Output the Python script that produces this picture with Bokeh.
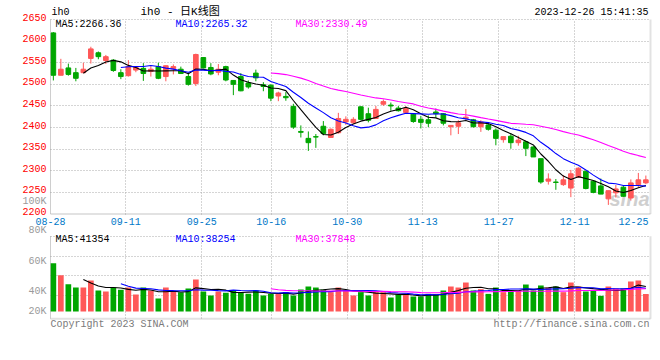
import numpy as np
import pandas as pd
from bokeh.plotting import figure
from bokeh.models import (Range1d, FixedTicker, Grid, Label, LabelSet, BoxAnnotation,
                          ColumnDataSource)
from bokeh.core.properties import value
from bokeh.embed import file_html
from bokeh.resources import INLINE

# ---------------- data ----------------
dates = ["08-28", "08-29", "08-30", "08-31", "09-01", "09-04", "09-05", "09-06", "09-07", "09-08",
         "09-11", "09-12", "09-13", "09-14", "09-15", "09-18", "09-19", "09-20", "09-21", "09-22",
         "09-25", "09-26", "09-27", "09-28", "10-09", "10-10", "10-11", "10-12", "10-13", "10-16",
         "10-17", "10-18", "10-19", "10-20", "10-23", "10-24", "10-25", "10-26", "10-27", "10-30",
         "10-31", "11-01", "11-02", "11-03", "11-06", "11-07", "11-08", "11-09", "11-10", "11-13",
         "11-14", "11-15", "11-16", "11-17", "11-20", "11-21", "11-22", "11-23", "11-24", "11-27",
         "11-28", "11-29", "11-30", "12-01", "12-04", "12-05", "12-06", "12-07", "12-08", "12-11",
         "12-12", "12-13", "12-14", "12-15", "12-18", "12-19", "12-20", "12-21", "12-22", "12-25"]

opens = [2619, 2521, 2538, 2527, 2527, 2560, 2573, 2555, 2556, 2527,
         2520, 2533, 2537, 2530, 2541, 2518, 2536, 2535, 2518, 2502,
         2562, 2539, 2528, 2541, 2509, 2518, 2503, 2526, 2499, 2498,
         2473, 2472, 2449, 2391, 2375, 2379, 2403, 2377, 2388, 2413,
         2411, 2448, 2432, 2421, 2454, 2452, 2445, 2435, 2431, 2419,
         2418, 2436, 2432, 2402, 2403, 2421, 2418, 2402, 2406, 2394,
         2372, 2380, 2365, 2367, 2355, 2328, 2276, 2274, 2268, 2260,
         2285, 2299, 2276, 2265, 2235, 2249, 2262, 2237, 2268, 2272]
highs = [2621, 2559, 2548, 2538, 2550, 2587, 2576, 2568, 2558, 2535,
         2556, 2541, 2549, 2542, 2550, 2544, 2546, 2541, 2527, 2571,
         2563, 2549, 2547, 2543, 2510, 2526, 2509, 2534, 2505, 2500,
         2483, 2482, 2455, 2405, 2391, 2385, 2415, 2398, 2434, 2426,
         2424, 2449, 2446, 2450, 2465, 2458, 2450, 2450, 2432, 2427,
         2428, 2444, 2433, 2405, 2417, 2443, 2420, 2417, 2409, 2398,
         2379, 2386, 2381, 2370, 2357, 2328, 2294, 2281, 2290, 2302,
         2308, 2299, 2277, 2282, 2254, 2267, 2265, 2280, 2295, 2289]
lows = [2509, 2521, 2520, 2507, 2526, 2548, 2558, 2547, 2529, 2512,
        2518, 2528, 2508, 2518, 2512, 2507, 2523, 2524, 2497, 2496,
        2537, 2521, 2521, 2507, 2475, 2484, 2490, 2507, 2484, 2461,
        2461, 2462, 2397, 2377, 2346, 2353, 2382, 2376, 2386, 2406,
        2409, 2417, 2412, 2421, 2450, 2439, 2437, 2433, 2411, 2398,
        2401, 2423, 2405, 2382, 2385, 2416, 2400, 2390, 2393, 2359,
        2365, 2351, 2358, 2334, 2332, 2270, 2268, 2256, 2265, 2239,
        2284, 2257, 2248, 2246, 2221, 2238, 2240, 2231, 2262, 2269]
closes = [2521, 2535, 2523, 2514, 2535, 2582, 2564, 2564, 2532, 2518,
          2541, 2539, 2525, 2535, 2514, 2543, 2541, 2525, 2500, 2569,
          2538, 2524, 2535, 2510, 2500, 2485, 2494, 2515, 2495, 2468,
          2480, 2469, 2401, 2389, 2365, 2378, 2386, 2396, 2421, 2419,
          2419, 2419, 2417, 2442, 2460, 2450, 2439, 2444, 2414, 2412,
          2410, 2432, 2410, 2405, 2411, 2424, 2402, 2413, 2396, 2375,
          2379, 2365, 2371, 2352, 2332, 2274, 2281, 2273, 2279, 2293,
          2306, 2259, 2250, 2246, 2254, 2258, 2241, 2272, 2279, 2279]
volumes = [80200, 60300, 45400, 39800, 39800, 51500, 34900, 33200, 39800, 36000,
           39800, 28200, 39800, 34900, 21600, 39800, 33200, 32100, 38200, 53100,
           33200, 26600, 33200, 31000, 34900, 32100, 29300, 34900, 26600, 29300,
           29300, 32100, 26600, 36500, 41500, 39800, 36500, 32100, 39800, 34900,
           26600, 32100, 26600, 32100, 32100, 23200, 28200, 28200, 24900, 24900,
           29300, 28200, 34900, 41500, 39800, 48100, 34900, 37100, 29300, 39800,
           32100, 34900, 34900, 44800, 34900, 43200, 39800, 41500, 32100, 48100,
           41500, 33200, 34900, 26000, 41500, 38200, 38200, 49800, 51500, 29100]

price_ticks = [2200, 2250, 2300, 2350, 2400, 2450, 2500, 2550, 2600, 2650]
price_tick_labels = ["2200", "2250", "2300", "2350", "2400", "2450", "2500", "2550", "2600", "2650"]
date_tick_labels = ["08-28", "09-11", "09-25", "10-16", "10-30", "11-13", "11-27", "12-11", "12-25"]
date_tick_pos = [-0.37, 9.66, 19.79, 29.05, 39.18, 49.26, 59.39, 69.53, 77.35]
date_grid_pos = [9.66, 19.79, 29.05, 39.18, 49.26, 59.39, 69.53]
vol_tick_labels = ["100K", "80K", "60K", "40K", "20K"]
vol_tick_at = [182600, 134500, 83500, 33700, 500]      # where the source prints them
vol_grid = [26560, 59260, 91800, 125000]

code_text = "ih0"
title_text = "ih0 - 日K线图"
stamp_text = "2023-12-26 15:41:35"
price_ma_texts = ["MA5:2266.36", "MA10:2265.32", "MA30:2330.49"]
vol_ma_texts = ["MA5:41354", "MA10:38254", "MA30:37848"]
copyright_text = "Copyright 2023 SINA.COM"
url_text = "http://finance.sina.com.cn"

# ---------------- styles / geometry ----------------
RED = "#FF5858"
GREEN = "#00A600"
MA_COLORS = ["#000000", "#0000FF", "#FF00FF"]
GRID = "#ABABAB"
BORDER = "#A0A0A0"
PRICE_TXT = "#FF0000"
DATE_TXT = "#0078C8"
VOL_TXT = "#9A9A9A"
FOOT_TXT = "#7A7A7A"
MONO = "Liberation Mono"
FS = "10px"

W, H = 660, 360
PLOT_L, PLOT_R = 50, 650
MAIN_T, MAIN_B = 19, 213.5
VOL_T, VOL_B = 235.7, 318.3
VOL_BASE, VOL_PER_PX = 311, 1660

X0, X1 = -0.38, 79.62
P0, P1 = 2200, 2650

ppu = (PLOT_R - PLOT_L) / (X1 - X0)
XL, XR = X0 - PLOT_L / ppu, X1 + (W - PLOT_R) / ppu
pp = (P1 - P0) / (MAIN_B - MAIN_T)
PL, PH = P0 - (H - MAIN_B) * pp, P1 + MAIN_T * pp
VL, VH = -(H - VOL_BASE) * VOL_PER_PX, VOL_BASE * VOL_PER_PX
VT, VB = (VOL_BASE - VOL_T) * VOL_PER_PX, (VOL_BASE - VOL_B) * VOL_PER_PX

# ---------------- derived ----------------
n = len(closes)
x = np.arange(n)
o = np.array(opens, float)
h = np.array(highs, float)
l = np.array(lows, float)
c = np.array(closes, float)
v = np.array(volumes, float)
col = np.where(c >= o, RED, GREEN)
src = ColumnDataSource(dict(x=x, o=o, h=h, l=l, c=c, top=np.maximum(o, c), bot=np.minimum(o, c),
                            vol=v, col=col))
ma_windows = [5, 10, 30]
price_mas = [pd.Series(c).rolling(w).mean().to_numpy() for w in ma_windows]
vol_mas = [pd.Series(v).rolling(w).mean().to_numpy() for w in ma_windows]

p = figure(width=W, height=H, x_range=Range1d(XL, XR), y_range=Range1d(PL, PH),
           extra_y_ranges={"vol": Range1d(VL, VH)},
           output_backend="svg", toolbar_location=None, x_axis_location=None,
           y_axis_location=None, min_border=0, min_border_left=0, min_border_right=0,
           min_border_top=0, min_border_bottom=0, outline_line_color=None,
           background_fill_color="white", border_fill_color="white")
p.xgrid.visible = False
p.ygrid.visible = False


def grid(dim, ticks, cross, yname="default"):
    g = Grid(dimension=dim, ticker=FixedTicker(ticks=ticks), cross_bounds=cross,
             y_range_name=yname, grid_line_color=GRID, grid_line_dash="1 2",
             grid_line_width=1)
    p.add_layout(g)


grid(1, price_ticks[1:], (X0, X1))
grid(0, date_grid_pos, (P0, P1))
grid(1, vol_grid, (X0, X1), "vol")
grid(0, date_grid_pos, (VB, VT), "vol")


def edge(left, right, bottom, top, width, yname="default"):
    p.add_layout(BoxAnnotation(left=left, right=right, bottom=bottom, top=top,
                               fill_color=None, fill_alpha=0, line_color=BORDER,
                               line_width=width, y_range_name=yname))


edge(X0, X0, P0, P1, 1)
edge(X1, X1, P0, P1, 2)
edge(X0, X1, P0, P0, 2)
edge(X0, X0, VB, VT, 1, "vol")
edge(X1, X1, VB, VT, 2, "vol")
edge(X0, X1, VB, VB, 2, "vol")


def note(text, xx, yy, dx, dy, color, align="left", size=FS, font=MONO, style="normal",
         yname="default", level="annotation", alpha=1.0):
    p.add_layout(Label(x=xx, y=yy, x_offset=dx, y_offset=dy, text=text, text_color=color,
                       text_align=align, text_baseline="middle", text_font=font,
                       text_font_size=size, text_font_style=style, y_range_name=yname,
                       level=level, text_alpha=alpha))


# watermark
note("sina", X1, P0, -1, 15, "#CFCFCF", align="right", size="20px", font="Liberation Sans",
     style="bold italic", level="underlay")

# candles
p.segment(x0="x", y0="l", x1="x", y1="h", color="col", line_width=1, source=src)
p.vbar(x="x", width=0.62, top="top", bottom="bot", fill_color="col", line_color="col",
       line_width=1, source=src)
for ma, mc in zip(price_mas, MA_COLORS):
    p.line(x, ma, line_color=mc, line_width=1.1)

# volume
p.vbar(x="x", width=0.76, top="vol", bottom=0, fill_color="col", line_color=None, source=src,
       y_range_name="vol")
for ma, mc in zip(vol_mas, MA_COLORS):
    p.line(x, ma, line_color=mc, line_width=1.1, y_range_name="vol")

# tick labels
p.add_layout(LabelSet(x=X0, y="y", text="t", x_offset=-4, y_offset=2.5,
                      source=ColumnDataSource(dict(y=price_ticks, t=price_tick_labels)),
                      text_align="right", text_baseline="middle", text_color=PRICE_TXT,
                      text_font=value(MONO), text_font_size=FS))
p.add_layout(LabelSet(x="x", y=P0, text="t", y_offset=-7.5,
                      source=ColumnDataSource(dict(x=date_tick_pos, t=date_tick_labels)),
                      text_align="center", text_baseline="middle", text_color=DATE_TXT,
                      text_font=value(MONO), text_font_size=FS))
p.add_layout(LabelSet(x=X0, y="y", text="t", x_offset=-4, y_range_name="vol",
                      source=ColumnDataSource(dict(y=vol_tick_at, t=vol_tick_labels)),
                      text_align="right", text_baseline="middle", text_color=VOL_TXT,
                      text_font=value(MONO), text_font_size=FS))

# header
note(code_text, X0, P1, 1, 7, "#000000")
note(title_text, X0, P1, 90, 8, "#000000", size="11px",
     font="Liberation Mono, Noto Sans CJK SC")
note(stamp_text, X1, P1, -2, 7, "#000000", align="right")

# MA legends
for t, mc, dx in zip(price_ma_texts, MA_COLORS, [5, 125, 245]):
    note(t, X0, P1, dx, -4.7, mc)
for t, mc, dx in zip(vol_ma_texts, MA_COLORS, [5, 125, 245]):
    note(t, X0, VT, dx, -2.8, mc, yname="vol")

# footer
note(copyright_text, X0, VB, 0, -5.2, FOOT_TXT, yname="vol")
note(url_text, X1, VB, -1, -5.2, FOOT_TXT, align="right", yname="vol")

open("out.html", "w").write(file_html(p, INLINE, "ih0"))
